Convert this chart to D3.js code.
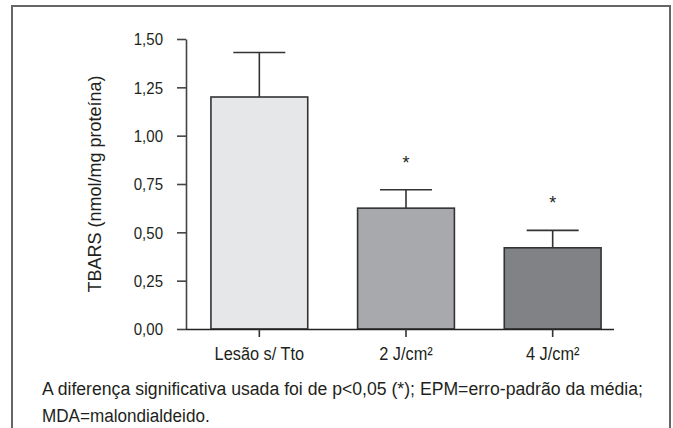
<!DOCTYPE html>
<html>
<head>
<meta charset="utf-8">
<script src="https://cdn.jsdelivr.net/npm/d3@7"></script>
<style>
  html, body { margin: 0; padding: 0; background: #fff; }
  svg { display: block; }
  text { font-family: "Liberation Sans", Arial, sans-serif; fill: #231f20; }
</style>
</head>
<body>
<svg id="chart" width="673" height="428"></svg>
<script>
const categories = ["Lesão s/ Tto", "2 J/cm²", "4 J/cm²"];
const means = [1.20, 0.625, 0.42];
const errors = [0.23, 0.095, 0.09];
const significant = [false, true, true];
const fills = ["#e6e7e8", "#a7a9ac", "#808285"];
const yTicks = [0, 0.25, 0.5, 0.75, 1.0, 1.25, 1.5];
const yTitle = "TBARS (nmol/mg proteína)";
const captionLines = [
  "A diferença significativa usada foi de p<0,05 (*); EPM=erro-padrão da média;",
  "MDA=malondialdeido."
];

const svg = d3.select("#chart");

// frame
svg.append("path")
  .attr("d", "M12,430 L12,6 L670,6 L670,430")
  .attr("fill", "none").attr("stroke", "#666").attr("stroke-width", 2);

const x = d3.scaleBand().domain(categories).range([186, 626])
  .paddingInner(0.34).paddingOuter(0.17);
const y = d3.scaleLinear().domain([0, 1.5]).range([329, 39]);

const fmt = d => d.toFixed(2).replace(".", ",");

// y axis
const yAxis = svg.append("g").attr("transform", "translate(186,0)")
  .call(d3.axisLeft(y).tickValues(yTicks).tickFormat(fmt).tickSize(9).tickSizeOuter(0));
yAxis.select(".domain").attr("stroke", "#444").attr("stroke-width", 1.6);
yAxis.selectAll(".tick line").attr("stroke", "#444").attr("stroke-width", 1.6);
yAxis.selectAll(".tick text").attr("x", 0).attr("dy", "0.36em")
  .attr("transform", "translate(-23,0) scale(0.94,1)")
  .style("font-size", "16px").attr("fill", "#231f20");

// y title
svg.append("text")
  .attr("transform", "translate(95," + ((39 + 329) / 2) + ") rotate(-90)")
  .attr("text-anchor", "middle").attr("dy", "0.35em")
  .style("font-size", "18px").text(yTitle);

// bars
const g = svg.append("g");
categories.forEach((c, i) => {
  const cx = x(c) + x.bandwidth() / 2;
  g.append("line").attr("x1", cx).attr("x2", cx)
    .attr("y1", y(means[i])).attr("y2", y(means[i] + errors[i]))
    .attr("stroke", "#333").attr("stroke-width", 1.6);
  g.append("line").attr("x1", cx - 26).attr("x2", cx + 26)
    .attr("y1", y(means[i] + errors[i])).attr("y2", y(means[i] + errors[i]))
    .attr("stroke", "#333").attr("stroke-width", 1.6);
  g.append("rect")
    .attr("x", x(c)).attr("width", x.bandwidth())
    .attr("y", y(means[i])).attr("height", y(0) - y(means[i]))
    .attr("fill", fills[i]).attr("stroke", "#333").attr("stroke-width", 1.6);
  if (significant[i]) {
    g.append("text").attr("x", cx).attr("y", y(means[i] + errors[i]) - 21)
      .attr("text-anchor", "middle").style("font-size", "18px").text("*");
  }
});

// x axis
const xAxis = svg.append("g").attr("transform", "translate(0,329)")
  .call(d3.axisBottom(x).tickSize(8).tickSizeOuter(0));
xAxis.select(".domain").attr("d", "M186,0.5H614").attr("stroke", "#222").attr("stroke-width", 1.6);
xAxis.selectAll(".tick line").attr("stroke", "#333").attr("stroke-width", 1.6);
xAxis.selectAll(".tick text").attr("x", 0).attr("y", 0).attr("dy", null)
  .attr("transform", "translate(0,31) scale(0.86,1)")
  .style("font-size", "19px").attr("fill", "#231f20");

// caption
const cap1 = svg.append("text").attr("x", 0).attr("y", 0)
  .style("font-size", "19px").text(captionLines[0]);
const w1 = cap1.node().getComputedTextLength();
cap1.attr("transform", "translate(42,395) scale(" + (601 / w1) + ",1)");
svg.append("text").attr("x", 0).attr("y", 0)
  .attr("transform", "translate(42,422) scale(0.9,1)")
  .style("font-size", "19px").text(captionLines[1]);
</script>
</body>
</html>
